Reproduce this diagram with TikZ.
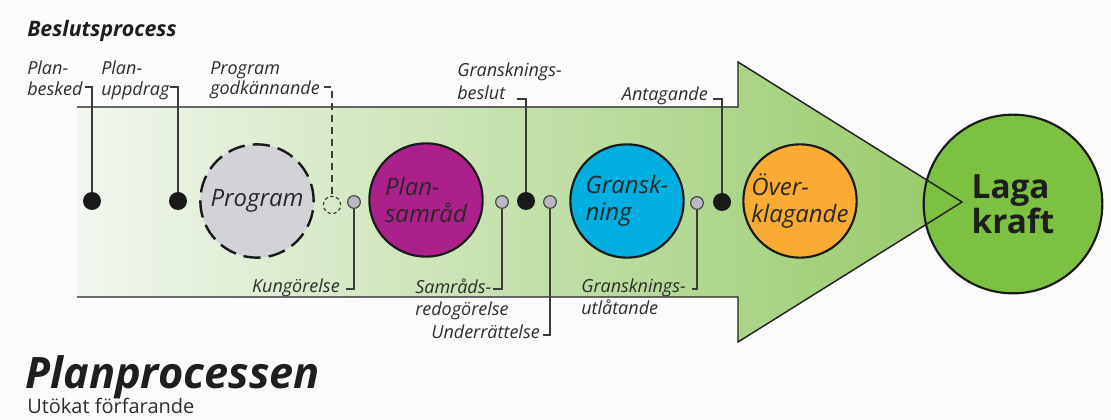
\documentclass[tikz,border=0pt]{standalone}
\usepackage{fontspec}
\setmainfont{Open Sans}

\begin{document}
\begin{tikzpicture}[x=0.75pt,y=0.75pt,yscale=-1,xscale=1,
  lbl/.style={inner sep=0pt, align=left, text={rgb, 255:red, 45; green, 45; blue, 45}, font=\fontsize{13.5}{15.5}\selectfont\itshape},
  stage/.style={circle, draw={rgb, 255:red, 25; green, 25; blue, 25}, line width=1.6pt, minimum size=85pt, inner sep=0pt, align=left, text={rgb, 255:red, 40; green, 40; blue, 40}, font=\fontsize{18}{20.5}\selectfont\itshape},
  bdot/.style={circle, fill={rgb, 255:red, 25; green, 25; blue, 25}, minimum size=13.5pt, inner sep=0pt},
  gdot/.style={circle, draw={rgb, 255:red, 70; green, 70; blue, 70}, fill={rgb, 255:red, 185; green, 185; blue, 195}, line width=0.9pt, minimum size=9.5pt, inner sep=0pt},
  odot/.style={circle, draw={rgb, 255:red, 60; green, 60; blue, 60}, dash pattern=on 2.5pt off 2pt, line width=0.9pt, minimum size=13pt, inner sep=0pt},
  lead/.style={draw={rgb, 255:red, 60; green, 60; blue, 60}, line width=0.8pt},
]
\useasboundingbox (0,0) rectangle (1111,420);
\fill[color={rgb, 255:red, 251; green, 251; blue, 251}] (0,0) rectangle (1111,420);

%Shape: Arrow
\fill[left color={rgb, 255:red, 242; green, 247; blue, 239}, middle color={rgb, 255:red, 200; green, 226; blue, 172}, right color={rgb, 255:red, 150; green, 202; blue, 104}] (77,107) -- (738,107) -- (738,62) -- (962,202) -- (738,342) -- (738,297) -- (77,297) -- cycle;

%Shape: Circle
\node[stage, minimum size=134pt, fill={rgb, 255:red, 124; green, 193; blue, 66}, text={rgb, 255:red, 30; green, 30; blue, 30}, font=\fontsize{25}{26.5}\selectfont\bfseries] (laga) at (1013,204) {Laga\\kraft};

%Straight Lines
\draw[color={rgb, 255:red, 35; green, 35; blue, 35}, line width=1.1pt] (77,107) -- (738,107) -- (738,62) -- (962,202) -- (738,342) -- (738,297) -- (77,297);

%Shape: Circle
\node[stage, fill={rgb, 255:red, 209; green, 211; blue, 214}, dash pattern=on 13pt off 6pt, line width=1.8pt] (program) at (257,201) {Program};
\node[stage, fill={rgb, 255:red, 172; green, 32; blue, 140}] (samrad) at (426,200) {Plan-\\samråd};
\node[stage, fill={rgb, 255:red, 0; green, 174; blue, 224}] (gransk) at (627,201) {Gransk-\\ning};
\node[stage, fill={rgb, 255:red, 249; green, 171; blue, 52}] (overkl) at (800,201) {Över-\\klagande};

% Dots
\node[bdot] (dBesked) at (92,201) {};
\node[bdot] (dUppdrag) at (178,201) {};
\node[odot] (dGodk) at (332,205) {};
\node[gdot] (dKung) at (354,202) {};
\node[gdot] (dSamr) at (502,202) {};
\node[bdot] (dGbes) at (526,201) {};
\node[gdot] (dUnder) at (550,202) {};
\node[gdot] (dGutl) at (697,203) {};
\node[bdot] (dAntag) at (722,202) {};

% Text Node
\node[anchor=base west, inner sep=0pt, text={rgb, 255:red, 30; green, 30; blue, 30}, font=\fontsize{16}{18}\selectfont\bfseries\itshape] (tBeslut) at (27,37) {Beslutsprocess};
% Text Node
\node[lbl, anchor=north west] (tBesked) at (27,61) {Plan-\\besked};
% Text Node
\node[lbl, anchor=north west] (tUppdrag) at (101,61) {Plan-\\uppdrag};
% Text Node
\node[lbl, anchor=north west] (tGodk) at (210,61) {Program\\godkännande};
% Text Node
\node[lbl, anchor=north west, font=\fontsize{13.5}{17}\selectfont\itshape] (tGbes) at (457,63) {Gransknings-\\beslut};
% Text Node
\node[lbl, anchor=base east] (tAntag) at (708,101) {Antagande};
% Text Node
\node[lbl, anchor=base east] (tKung) at (340,293) {Kungörelse};
% Text Node
\node[lbl, anchor=north west, font=\fontsize{13.5}{16.5}\selectfont\itshape] (tSamr) at (415,279) {Samråds-\\redogörelse};
% Text Node
\node[lbl, anchor=base east] (tUnder) at (540,339) {Underrättelse};
% Text Node
\node[lbl, anchor=north west, font=\fontsize{13.5}{16.5}\selectfont\itshape] (tGutl) at (581,279) {Gransknings-\\utlåtande};
% Text Node
\node[anchor=base west, inner sep=0pt, text={rgb, 255:red, 30; green, 30; blue, 30}, font=\fontsize{32.5}{38}\selectfont\bfseries\itshape] (tPlan) at (25,389) {Planprocessen};
% Text Node
\node[anchor=base west, inner sep=0pt, text={rgb, 255:red, 45; green, 45; blue, 45}, font=\fontsize{15}{18}\selectfont] (tUtok) at (27,413) {Utökat förfarande};

%Straight Lines
\coordinate (hBesked) at (85,87);
\coordinate (hUppdrag) at (170,87);
\coordinate (hGodk) at (324,87);
\coordinate (hGbes) at (517,99);
\coordinate (hAntag) at (713,99);
\coordinate (hKung) at (346,289);
\coordinate (hSamr) at (493,289);
\coordinate (hUnder) at (543,335);
\coordinate (hGutl) at (692,289);
\draw[lead] (hBesked) -| (dBesked);
\draw[lead] (hUppdrag) -| (dUppdrag);
\draw[lead, dash pattern=on 5pt off 4pt] (hGodk) -| (dGodk);
\draw[lead] (hGbes) -| (dGbes);
\draw[lead] (hAntag) -| (dAntag);
\draw[lead] (dKung) |- (hKung);
\draw[lead] (dSamr) |- (hSamr);
\draw[lead] (dUnder) |- (hUnder);
\draw[lead] (dGutl) |- (hGutl);

\end{tikzpicture}
\end{document}
